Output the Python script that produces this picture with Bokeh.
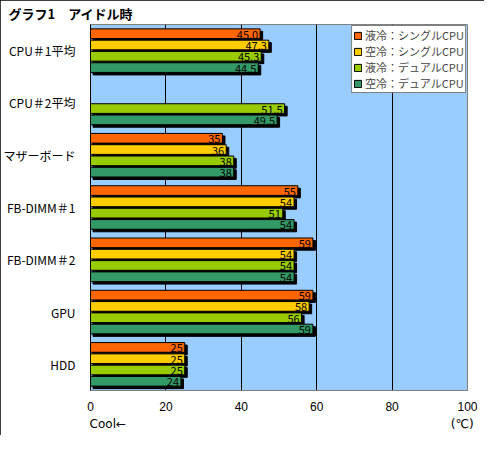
from bokeh.plotting import figure
from bokeh.models import (ColumnDataSource, Range1d, FactorRange, Legend, LegendItem,
                          FixedTicker, Title, LinearAxis)
from bokeh.transform import dodge
from bokeh.core.properties import value
from bokeh.embed import file_html
from bokeh.resources import INLINE

# ---- data ----
categories = ["CPU＃1平均", "CPU＃2平均", "マザーボード", "FB-DIMM＃1", "FB-DIMM＃2", "GPU", "HDD"]
series_names = ["液冷：シングルCPU", "空冷：シングルCPU", "液冷：デュアルCPU", "空冷：デュアルCPU"]
liquid_single = [45.0, None, 35, 55, 59, 59, 25]
air_single = [47.3, None, 36, 54, 54, 58, 25]
liquid_dual = [45.3, 51.5, 38, 51, 54, 56, 25]
air_dual = [44.5, 49.5, 38, 54, 54, 59, 24]
decimals = [1, 1, 0, 0, 0, 0, 0]
x_ticks = [0, 20, 40, 60, 80, 100]
title_text = "グラフ1　アイドル時"
x_note_left = "Cool←"
x_note_right = "(℃)"

# ---- style ----
colors = ["#FF6600", "#FFCC00", "#99CC00", "#339966"]
offsets = [0.324, 0.108, -0.108, -0.324]
bar_h = 0.185
FONT = "Noto Sans CJK JP"
W, H = 484, 435
ML, MR, MT, MB = 88, 17, 24, 45
FW, FH = W - ML - MR, H - MT - MB
shadow_dx = 2.5 * 100.0 / FW
shadow_dy = 2.5 * len(categories) / FH
note_pos = [4.6, 98.6]   # horizontal placement of the two notes under the axis

p = figure(width=W, height=H, output_backend="svg", toolbar_location=None,
           x_range=Range1d(0, 100), y_range=FactorRange(factors=categories[::-1]),
           min_border_left=ML, min_border_right=MR, min_border_top=MT, min_border_bottom=MB)
p.styles = {"outline": "1px solid black", "outline-offset": "-1px"}
p.background_fill_color = "#99CCFF"
p.border_fill_color = "white"
p.outline_line_color = "#808080"
p.outline_line_width = 1

p.add_layout(Title(text=title_text, align="left", offset=-82, standoff=3,
                   text_font=FONT, text_font_size="13px", text_font_style="bold",
                   text_color="black"), "above")

p.xgrid.ticker = FixedTicker(ticks=[20, 40, 60, 80])
p.xgrid.grid_line_color = "black"
p.xgrid.grid_line_width = 1
p.ygrid.grid_line_color = None

p.xaxis.ticker = FixedTicker(ticks=x_ticks)
p.xaxis.major_tick_line_color = None
p.xaxis.minor_tick_line_color = None
p.xaxis.major_tick_out = 0
p.xaxis.major_tick_in = 0
p.xaxis.axis_line_color = "#808080"
p.xaxis.major_label_standoff = 11
p.xaxis.major_label_text_font = "Liberation Sans"
p.xaxis.major_label_text_font_size = "12px"
p.xaxis.major_label_text_color = "black"

note_axis = LinearAxis(ticker=FixedTicker(ticks=note_pos),
                       major_label_overrides={note_pos[0]: x_note_left, note_pos[1]: x_note_right},
                       axis_line_color=None, major_tick_line_color=None, minor_tick_line_color=None,
                       major_tick_out=0, major_tick_in=0,
                       major_label_standoff=3, major_label_text_font="DejaVu Sans",
                       major_label_text_font_size="12px", major_label_text_color="black")
p.add_layout(note_axis, "below")

p.yaxis.major_tick_line_color = None
p.yaxis.minor_tick_line_color = None
p.yaxis.axis_line_color = "black"
p.yaxis.major_label_standoff = 9
p.yaxis.major_label_text_font = FONT
p.yaxis.major_label_text_font_size = "12px"
p.yaxis.major_label_text_color = "black"

series_values = [liquid_single, air_single, liquid_dual, air_dual]
legend_items = []
for name, vals, col, off in zip(series_names, series_values, colors, offsets):
    cats = [c for c, v in zip(categories, vals) if v is not None]
    vs = [v for v in vals if v is not None]
    labels = [f"{v:.{d}f}" for v, d in zip(vals, decimals) if v is not None]
    src = ColumnDataSource(dict(cat=cats, val=vs, sh=[v + shadow_dx for v in vs], lab=labels))
    p.hbar(y=dodge("cat", off - shadow_dy, range=p.y_range), left=shadow_dx, right="sh",
           height=bar_h, source=src, fill_color="black", line_color="black")
    r = p.hbar(y=dodge("cat", off, range=p.y_range), left=0, right="val", height=bar_h,
               source=src, fill_color=col, line_color="black", line_width=1)
    p.text(x="val", y=dodge("cat", off, range=p.y_range), text="lab", source=src,
           text_align="right", text_baseline="middle", x_offset=-2, y_offset=1,
           text_font=value(FONT), text_font_size="11px", text_color="black")
    legend_items.append(LegendItem(label=name, renderers=[r]))

legend = Legend(items=legend_items, location="top_right", margin=1, padding=1, spacing=0,
                glyph_width=9, glyph_height=9, label_standoff=3, label_height=12,
                label_text_font=FONT, label_text_font_size="11px", label_text_line_height=1.0,
                border_line_color="black", border_line_width=1,
                background_fill_color="white", background_fill_alpha=1.0)
p.add_layout(legend, "center")

open("out.html", "w").write(file_html(p, INLINE))
